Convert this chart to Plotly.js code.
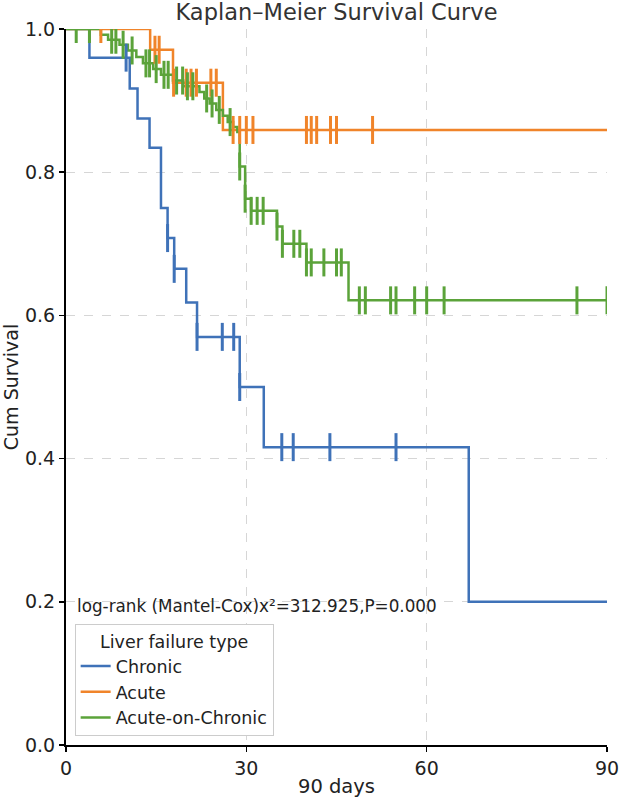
<!DOCTYPE html>
<html>
<head>
<meta charset="utf-8">
<script src="https://cdn.plot.ly/plotly-3.0.1.min.js"></script>
<style>
  html, body { margin: 0; padding: 0; background: #fff; }
  #chart { width: 620px; height: 798px; }
</style>
</head>
<body>
<div id="chart"></div>
<script>
// Kaplan–Meier estimates per group: event days and survival after each event
const chronicDays   = [3.9, 10.6, 11.9, 13.9, 15.8, 16.9, 18.0, 20.0, 21.8, 28.9, 32.9, 67.0];
const chronicSurv   = [0.960, 0.917, 0.875, 0.834, 0.750, 0.708, 0.665, 0.618, 0.570, 0.500, 0.416, 0.200];
const chronicCensor = [10.0, 16.9, 18.0, 21.8, 26.0, 27.9, 28.9, 35.9, 37.8, 43.9, 54.9];

const acuteDays   = [14.0, 17.8, 26.1];
const acuteSurv   = [0.971, 0.925, 0.859];
const acuteCensor = [5.8, 14.8, 15.5, 17.9, 20.0, 20.8, 21.7, 24.1, 25.0, 27.8, 28.9, 30.0, 31.1, 40.0, 40.8, 41.7, 44.0, 45.0, 51.0];

const aocDays = [5.8, 7.0, 8.9, 10.3, 11.7, 12.8, 14.5, 15.8, 17.8, 19.5, 22.2, 23.0, 23.9, 25.0, 26.1, 26.9, 27.8, 28.5,
                 28.9, 29.8, 30.8, 35.1, 36.0, 40.0, 47.0];
const aocSurv = [0.992, 0.985, 0.978, 0.970, 0.961, 0.952, 0.944, 0.936, 0.928, 0.920, 0.912, 0.903, 0.896, 0.887, 0.879, 0.870, 0.863, 0.856,
                 0.808, 0.763, 0.746, 0.724, 0.700, 0.674, 0.621];
const aocCensor = [1.7, 3.9, 7.6, 8.3, 9.5, 11.0, 13.3, 13.9, 15.0, 16.3, 17.0, 18.4, 19.4, 20.2, 21.1, 23.4, 24.3, 25.5, 27.3,
                   28.9, 29.8, 30.8, 31.8, 32.8, 35.1, 36.0, 37.9, 38.9, 40.0, 40.8, 42.9, 45.0, 45.8,
                   48.8, 49.8, 54.0, 54.9, 58.0, 60.0, 62.9, 85.0, 90.0];

const groupNames  = ['Chronic', 'Acute', 'Acute-on-Chronic'];
const groupColors = ['#3f72b8', '#f0842a', '#5ba33a'];
const xTicks = [0, 30, 60, 90];
const yTicks = [0, 0.2, 0.4, 0.6, 0.8, 1.0];
const followUp = 90;

function stepCurve(days, surv) {
  const x = [0].concat(days, [followUp]);
  const y = [1].concat(surv, [surv[surv.length - 1]]);
  return { x, y };
}
function survAt(days, surv, t) {
  let s = 1;
  for (let i = 0; i < days.length; i++) { if (days[i] <= t) s = surv[i]; }
  return s;
}

const groups = [
  [chronicDays, chronicSurv, chronicCensor],
  [acuteDays, acuteSurv, acuteCensor],
  [aocDays, aocSurv, aocCensor]
];

const traces = [];
groups.forEach((g, i) => {
  const c = stepCurve(g[0], g[1]);
  traces.push({
    x: c.x, y: c.y, type: 'scatter', mode: 'lines', name: groupNames[i],
    line: { shape: 'hv', color: groupColors[i], width: 2.5 },
    hoverinfo: 'skip'
  });
});
groups.forEach((g, i) => {
  traces.push({
    x: g[2], y: g[2].map(t => survAt(g[0], g[1], t)),
    type: 'scatter', mode: 'markers', showlegend: false,
    marker: { symbol: 'line-ns', size: 20, color: groupColors[i], line: { color: groupColors[i], width: 3 } },
    hoverinfo: 'skip'
  });
});

const font = 'DejaVu Sans, sans-serif';
const layout = {
  width: 620, height: 798,
  margin: { l: 66, r: 13, t: 29, b: 53 },
  paper_bgcolor: '#fff', plot_bgcolor: '#fff',
  font: { family: font, size: 18, color: '#222' },
  title: { text: 'Kaplan–Meier Survival Curve', x: 0.5, xref: 'paper', y: 0.985, yref: 'container', yanchor: 'middle',
           font: { family: font, size: 22.5, color: '#333' } },
  xaxis: {
    range: [0, 90], tickvals: xTicks, ticktext: xTicks.map(String),
    showline: true, linecolor: '#000', linewidth: 2, ticks: 'outside', ticklen: 5, tickwidth: 1.5, tickcolor: '#000',
    showgrid: true, gridcolor: '#d6d6d6', griddash: 'dash', gridwidth: 1, zeroline: false,
    title: { text: '90 days', font: { family: font, size: 19.5, color: '#222' }, standoff: 4 },
    tickfont: { size: 19, color: '#222' }
  },
  yaxis: {
    range: [0, 1], tickvals: yTicks, tickformat: '.1f',
    showline: true, linecolor: '#000', linewidth: 2, ticks: 'outside', ticklen: 5, tickwidth: 1.5, tickcolor: '#000',
    showgrid: true, gridcolor: '#d6d6d6', griddash: 'dash', gridwidth: 1, zeroline: false,
    title: { text: 'Cum Survival', font: { family: font, size: 19, color: '#222' }, standoff: 6 },
    tickfont: { size: 19, color: '#222' }
  },
  legend: {
    x: 0.016, y: 0.012, xanchor: 'left', yanchor: 'bottom',
    bgcolor: '#fff', bordercolor: '#cccccc', borderwidth: 1,
    font: { family: font, size: 17.5, color: '#222' },
    title: { text: 'Liver failure type', side: 'top center', font: { family: font, size: 17.5, color: '#222' } }
  },
  annotations: [{
    text: 'log-rank (Mantel-Cox)x²=312.925,P=0.000', xref: 'paper', yref: 'paper',
    x: 0.017, y: 0.1945, xanchor: 'left', yanchor: 'middle', showarrow: false,
    font: { family: font, size: 16.8, color: '#222' }
  }],
  showlegend: true
};

Plotly.newPlot('chart', traces, layout, { displayModeBar: false, staticPlot: true });
</script>
</body>
</html>
